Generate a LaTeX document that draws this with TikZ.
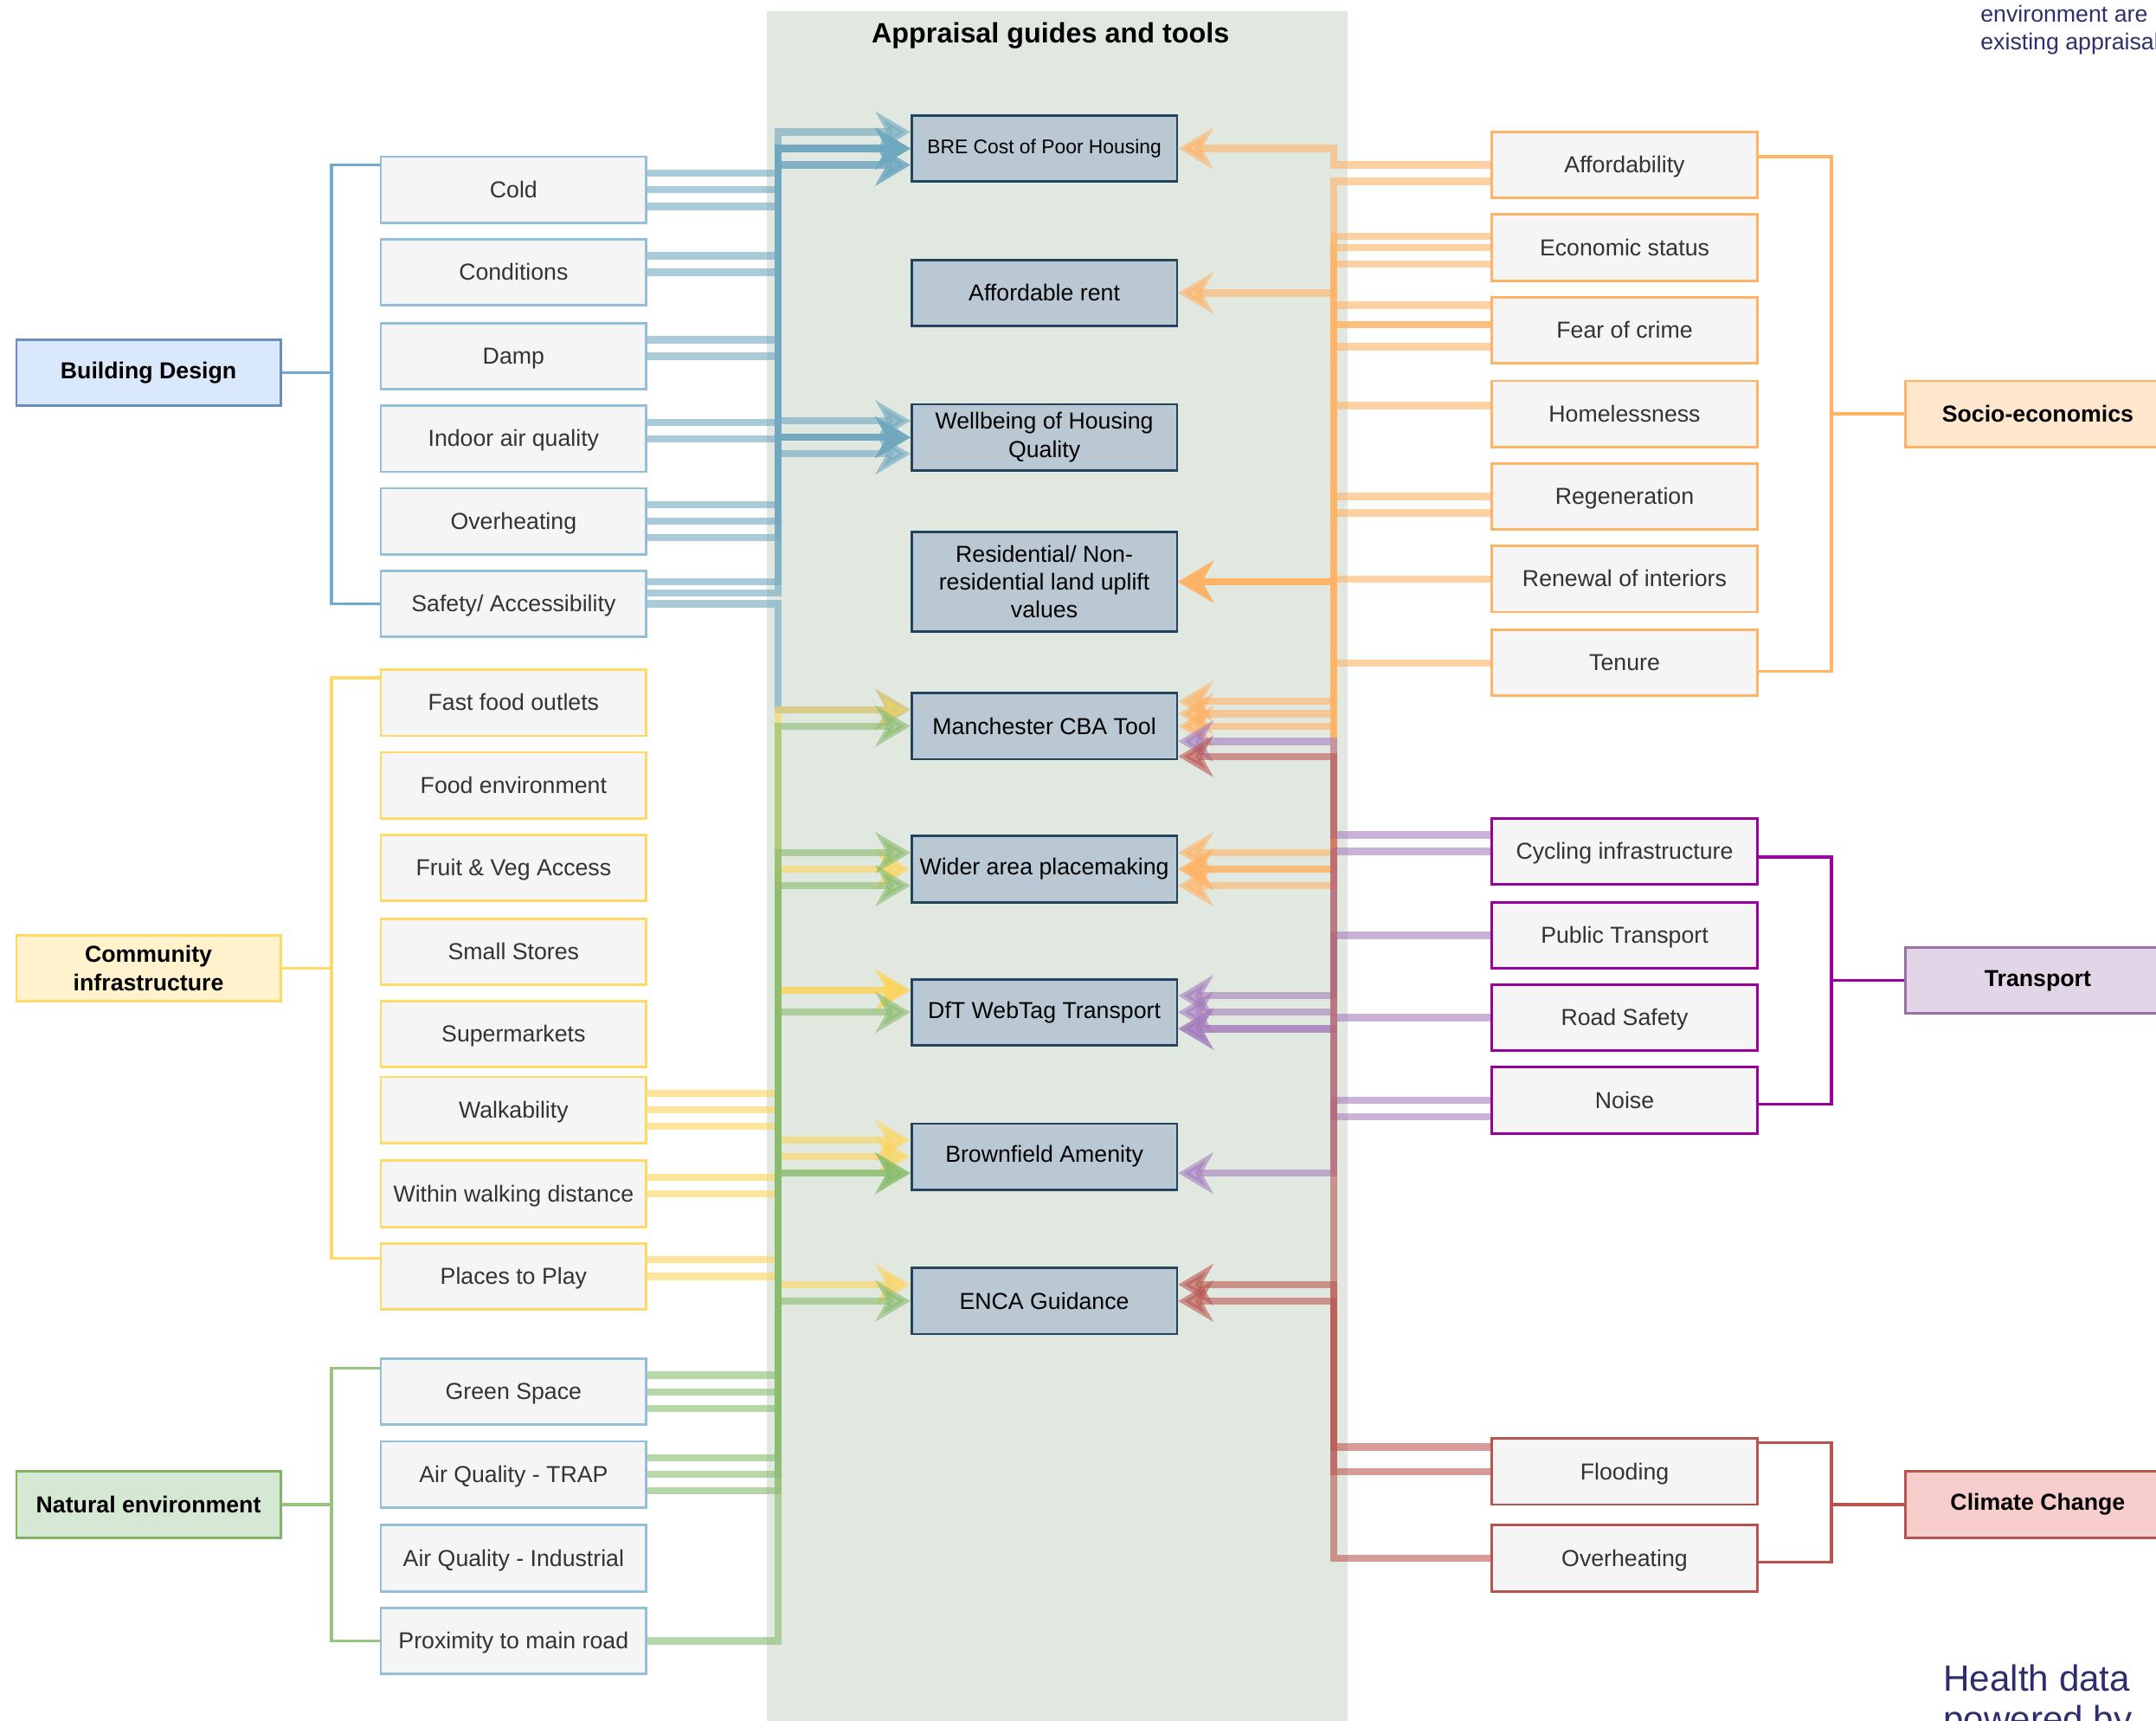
\documentclass[tikz,border=0pt]{standalone}
\usepackage{fontspec}
\setmainfont{Liberation Sans}
\usepackage{tikz}
\usetikzlibrary{positioning,arrows.meta}

\definecolor{panelbg}{HTML}{E1E8E0}
\definecolor{facfill}{HTML}{F5F5F5}
\definecolor{factext}{HTML}{333333}
\definecolor{toolfill}{HTML}{BAC8D3}
\definecolor{tooldraw}{HTML}{23445D}
\definecolor{bdfill}{HTML}{DAE8FC}
\definecolor{bddraw}{HTML}{6C8EBF}
\definecolor{cifill}{HTML}{FFF2CC}
\definecolor{cidraw}{HTML}{FFD966}
\definecolor{nefill}{HTML}{D5E8D4}
\definecolor{nedraw}{HTML}{82B366}
\definecolor{sefill}{HTML}{FFE6CC}
\definecolor{sedraw}{HTML}{FFB366}
\definecolor{trfill}{HTML}{E1D5E7}
\definecolor{trdraw}{HTML}{9673A6}
\definecolor{ccfill}{HTML}{F8CECC}
\definecolor{ccdraw}{HTML}{B85450}
\definecolor{facblue}{HTML}{93BFD8}
\definecolor{bdline}{HTML}{74AACB}
\definecolor{neline}{HTML}{97C47E}
\definecolor{trline}{HTML}{990099}
\definecolor{noteblue}{HTML}{2E2E6E}
\definecolor{lkblue}{HTML}{70A8C0}
\definecolor{lkyellow}{HTML}{FDD45A}
\definecolor{lkgreen}{HTML}{89BC6E}
\definecolor{lkorange}{HTML}{FFB366}
\definecolor{lkpurple}{HTML}{A57DBE}
\definecolor{lkred}{HTML}{BB5753}

\newcommand{\boxfont}{\fontsize{7.6}{9.2}\selectfont}
\newcommand{\lnkL}[5]{\draw[link,#1] (#2.east |- 0,#3) -| (566,#5) -- (#4.west |- 0,#5);}
\newcommand{\lnkR}[5]{\draw[link,#1] (#2.west |- 0,#3) -| (970,#5) -- (#4.east |- 0,#5);}

\begin{document}
\begin{tikzpicture}[
  x=0.015887cm, y=-0.015887cm,
  cat/.style={
    draw,
    line width=0.8pt,
    align=center,
    minimum width=3.05cm,
    minimum height=0.763cm,
    inner sep=1pt,
    font=\boxfont\bfseries
  },
  fac/.style={
    draw,
    line width=0.8pt,
    fill=facfill,
    text=factext,
    minimum width=3.066cm,
    minimum height=0.763cm,
    text height=6.7pt,
    text depth=1.5pt,
    inner sep=1pt,
    font=\boxfont
  },
  tool/.style={
    draw=tooldraw,
    line width=0.8pt,
    fill=toolfill,
    align=center,
    minimum width=3.066cm,
    minimum height=0.763cm,
    inner sep=1pt,
    font=\boxfont
  },
  bracket/.style={line width=1pt},
  link/.style={line width=2.4pt, opacity=0.6, -{Stealth[length=11.5pt,width=13.5pt]}},
  note/.style={anchor=base west, align=left, text=noteblue, inner sep=0pt}
]
  \useasboundingbox (0,0) rectangle (1568,1251);
  \fill[panelbg] (558,8) rectangle (980,1270);
  \node[font=\fontsize{9.2}{11}\selectfont\bfseries] (title) at (764,26) {Appraisal guides and tools};

  \node[note, font=\fontsize{7.6}{9}\selectfont] (notetop) at (1440,36) {environment are\\existing appraisal};
  \node[note, font=\fontsize{12}{13.4}\selectfont] (notebot) at (1413,1259) {Health data\\powered by};

  \node[cat, fill=bdfill, draw=bddraw] (bd) at (108,271) {Building Design};
  \node[cat, fill=cifill, draw=cidraw] (ci) at (108,704) {Community\\infrastructure};
  \node[cat, fill=nefill, draw=nedraw] (ne) at (108,1094) {Natural environment};
  \node[cat, fill=sefill, draw=sedraw] (se) at (1482,301) {Socio-economics};
  \node[cat, fill=trfill, draw=trdraw] (tr) at (1482,713) {Transport};
  \node[cat, fill=ccfill, draw=ccdraw] (cc) at (1482,1094) {Climate Change};

  \node[fac, draw=facblue] (cold) at (373.5,138) {Cold};
  \node[fac, draw=facblue] (cond) at (373.5,198) {Conditions};
  \node[fac, draw=facblue] (damp) at (373.5,259) {Damp};
  \node[fac, draw=facblue] (iaq) at (373.5,319) {Indoor air quality};
  \node[fac, draw=facblue] (overh) at (373.5,379) {Overheating};
  \node[fac, draw=facblue] (safety) at (373.5,439) {Safety/ Accessibility};
  \node[fac, draw=cidraw] (fastfood) at (373.5,511) {Fast food outlets};
  \node[fac, draw=cidraw] (foodenv) at (373.5,571) {Food environment};
  \node[fac, draw=cidraw] (fruitveg) at (373.5,631) {Fruit \& Veg Access};
  \node[fac, draw=cidraw] (smallst) at (373.5,692) {Small Stores};
  \node[fac, draw=cidraw] (supermkt) at (373.5,752) {Supermarkets};
  \node[fac, draw=cidraw] (walk) at (373.5,807) {Walkability};
  \node[fac, draw=cidraw] (wwd) at (373.5,868) {Within walking distance};
  \node[fac, draw=cidraw] (play) at (373.5,928) {Places to Play};
  \node[fac, draw=facblue] (green) at (373.5,1012) {Green Space};
  \node[fac, draw=facblue] (trap) at (373.5,1072) {Air Quality - TRAP};
  \node[fac, draw=facblue] (indus) at (373.5,1133) {Air Quality - Industrial};
  \node[fac, draw=facblue] (proxroad) at (373.5,1193) {Proximity to main road};

  \node[fac, draw=sedraw] (afford) at (1181.5,120) {Affordability};
  \node[fac, draw=sedraw] (econ) at (1181.5,180) {Economic status};
  \node[fac, draw=sedraw] (fear) at (1181.5,240) {Fear of crime};
  \node[fac, draw=sedraw] (homeless) at (1181.5,301) {Homelessness};
  \node[fac, draw=sedraw] (regen) at (1181.5,361) {Regeneration};
  \node[fac, draw=sedraw] (renewal) at (1181.5,421) {Renewal of interiors};
  \node[fac, draw=sedraw] (tenure) at (1181.5,482) {Tenure};
  \node[fac, draw=trline] (cycling) at (1181.5,619) {Cycling infrastructure};
  \node[fac, draw=trline] (pubtr) at (1181.5,680) {Public Transport};
  \node[fac, draw=trline] (roadsafe) at (1181.5,740) {Road Safety};
  \node[fac, draw=trline] (noise) at (1181.5,800) {Noise};
  \node[fac, draw=ccdraw] (flood) at (1181.5,1070) {Flooding};
  \node[fac, draw=ccdraw] (overhcc) at (1181.5,1133) {Overheating};

  \node[tool, font=\fontsize{6.5}{8}\selectfont] (bre) at (759.5,108) {BRE Cost of Poor Housing};
  \node[tool] (affrent) at (759.5,213) {Affordable rent};
  \node[tool] (wellbeing) at (759.5,318) {Wellbeing of Housing\\Quality};
  \node[tool, minimum height=1.144cm] (landuplift) at (759.5,423) {Residential/ Non-\\residential land uplift\\values};
  \node[tool] (mcba) at (759.5,528) {Manchester CBA Tool};
  \node[tool] (placemaking) at (759.5,632) {Wider area placemaking};
  \node[tool] (webtag) at (759.5,736) {DfT WebTag Transport};
  \node[tool] (brownfield) at (759.5,841) {Brownfield Amenity};
  \node[tool] (enca) at (759.5,946) {ENCA Guidance};

  \draw[bracket, bdline] (cold.west |- 0,120) -| (241,439) -- (safety.west);
  \draw[bracket, bdline] (bd.east) -- (241,271);
  \draw[bracket, cidraw] (fastfood.west |- 0,493) -| (241,915) -- (play.west |- 0,915);
  \draw[bracket, cidraw] (ci.east) -- (241,704);
  \draw[bracket, neline] (green.west |- 0,995) -| (241,1193) -- (proxroad.west);
  \draw[bracket, neline] (ne.east) -- (241,1094);
  \draw[bracket, sedraw] (afford.east |- 0,114) -| (1332,488) -- (tenure.east |- 0,488);
  \draw[bracket, sedraw] (1332,301) -- (se.west);
  \draw[bracket, trline] (cycling.east |- 0,623) -| (1332,803) -- (noise.east |- 0,803);
  \draw[bracket, trline] (1332,713) -- (tr.west);
  \draw[bracket, ccdraw] (flood.east |- 0,1049) -| (1332,1136) -- (overhcc.east |- 0,1136);
  \draw[bracket, ccdraw] (1332,1094) -- (cc.west);

  \lnkL{lkblue}{cold}{126}{bre}{108}
  \lnkL{lkblue}{cold}{138}{wellbeing}{318}
  \lnkL{lkblue}{cold}{150}{bre}{96}
  \lnkL{lkblue}{cond}{186}{bre}{108}
  \lnkL{lkblue}{cond}{198}{wellbeing}{318}
  \lnkL{lkblue}{damp}{247}{bre}{108}
  \lnkL{lkblue}{damp}{259}{wellbeing}{318}
  \lnkL{lkblue}{iaq}{307}{bre}{120}
  \lnkL{lkblue}{iaq}{319}{wellbeing}{306}
  \lnkL{lkblue}{overh}{367}{bre}{108}
  \lnkL{lkblue}{overh}{379}{wellbeing}{330}
  \lnkL{lkblue}{overh}{391}{bre}{120}
  \lnkL{lkblue}{safety}{423}{bre}{108}
  \lnkL{lkblue}{safety}{431}{wellbeing}{318}
  \lnkL{lkblue}{safety}{439}{mcba}{516}

  \lnkL{lkyellow}{walk}{795}{mcba}{516}
  \lnkL{lkyellow}{walk}{807}{placemaking}{632}
  \lnkL{lkyellow}{walk}{819}{webtag}{720}
  \lnkL{lkyellow}{wwd}{856}{brownfield}{829}
  \lnkL{lkyellow}{wwd}{868}{brownfield}{841}
  \lnkL{lkyellow}{play}{916}{enca}{934}
  \lnkL{lkyellow}{play}{928}{webtag}{720}

  \lnkL{lkgreen}{green}{1000}{enca}{946}
  \lnkL{lkgreen}{green}{1012}{mcba}{528}
  \lnkL{lkgreen}{green}{1024}{placemaking}{620}
  \lnkL{lkgreen}{trap}{1060}{brownfield}{853}
  \lnkL{lkgreen}{trap}{1072}{webtag}{736}
  \lnkL{lkgreen}{trap}{1084}{placemaking}{644}
  \lnkL{lkgreen}{proxroad}{1193}{brownfield}{853}

  \lnkR{lkorange}{afford}{120}{bre}{108}
  \lnkR{lkorange}{afford}{132}{landuplift}{423}
  \lnkR{lkorange}{econ}{172}{affrent}{213}
  \lnkR{lkorange}{econ}{180}{landuplift}{423}
  \lnkR{lkorange}{econ}{192}{mcba}{510}
  \lnkR{lkorange}{fear}{222}{placemaking}{620}
  \lnkR{lkorange}{fear}{236}{mcba}{519}
  \lnkR{lkorange}{fear}{236}{landuplift}{423}
  \lnkR{lkorange}{fear}{252}{placemaking}{632}
  \lnkR{lkorange}{homeless}{295}{placemaking}{632}
  \lnkR{lkorange}{regen}{361}{landuplift}{423}
  \lnkR{lkorange}{regen}{373}{mcba}{528}
  \lnkR{lkorange}{renewal}{421}{landuplift}{423}
  \lnkR{lkorange}{tenure}{482}{placemaking}{644}

  \lnkR{lkpurple}{cycling}{607}{mcba}{539}
  \lnkR{lkpurple}{cycling}{619}{webtag}{724}
  \lnkR{lkpurple}{pubtr}{680}{webtag}{736}
  \lnkR{lkpurple}{roadsafe}{740}{webtag}{748}
  \lnkR{lkpurple}{noise}{800}{brownfield}{853}
  \lnkR{lkpurple}{noise}{812}{webtag}{748}

  \lnkR{lkred}{flood}{1052}{enca}{934}
  \lnkR{lkred}{flood}{1070}{enca}{946}
  \lnkR{lkred}{overhcc}{1133}{mcba}{550}
\end{tikzpicture}
\end{document}
